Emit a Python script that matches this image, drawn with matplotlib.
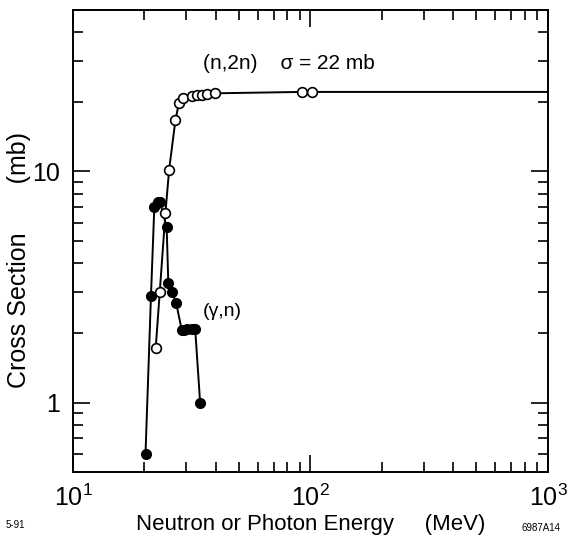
import matplotlib.pyplot as plt
from matplotlib.ticker import LogLocator, NullFormatter, FixedLocator

plt.rcParams['font.family'] = ['Liberation Sans', 'DejaVu Sans']

# (n,2n) - open circles
n2n_energy = [22.3, 23.2, 24.5, 25.4, 27.0, 27.9, 29.1, 31.6, 33.2, 34.8, 36.7, 39.7, 92, 101, 1000]
n2n_sigma = [1.72, 3.02, 6.6, 10.2, 16.7, 19.7, 20.9, 21.3, 21.4, 21.5, 21.6, 21.8, 22.1, 22.1, 22.1]
n2n_marked = 14  # last point is the line to the edge, no marker

# (gamma,n) - filled circles
gn_energy = [20.2, 21.3, 22.0, 22.7, 23.2, 24.8, 25.2, 26.1, 27.2, 28.7, 29.4, 30.1, 31.6, 32.7, 34.3]
gn_sigma = [0.60, 2.9, 7.0, 7.4, 7.4, 5.75, 3.28, 3.02, 2.69, 2.06, 2.06, 2.08, 2.08, 2.08, 1.0]

fig = plt.figure(figsize=(5.72, 5.47), dpi=100)
ax = fig.add_axes([0.1276, 0.137, 0.8304, 0.8447])

ax.plot(gn_energy, gn_sigma, color='black', lw=1.4, marker='o', ms=7,
        mfc='black', mec='black', zorder=3)
ax.plot(n2n_energy, n2n_sigma, color='black', lw=1.4, zorder=2)
ax.plot(n2n_energy[:n2n_marked], n2n_sigma[:n2n_marked], ls='none', marker='o', ms=7,
        mfc='white', mec='black', mew=1.2, zorder=4)

ax.set_xscale('log')
ax.set_yscale('log')
ax.set_xlim(10, 1000)
ax.set_ylim(0.5, 50)

ax.xaxis.set_major_locator(FixedLocator([10, 100, 1000]))
ax.set_xticklabels(['$\\mathregular{10^1}$', '$\\mathregular{10^2}$', '$\\mathregular{10^3}$'])
ax.xaxis.set_minor_locator(LogLocator(base=10, subs=range(2, 10)))
ax.xaxis.set_minor_formatter(NullFormatter())
ax.yaxis.set_major_locator(FixedLocator([1, 10]))
ax.set_yticklabels(['1', '10'])
ax.yaxis.set_minor_locator(LogLocator(base=10, subs=range(2, 10)))
ax.yaxis.set_minor_formatter(NullFormatter())

ax.tick_params(which='both', direction='in', top=True, right=True, width=1.2, labelsize=18)
ax.tick_params(which='major', length=12, pad=9)
ax.tick_params(which='minor', length=7)
for s in ax.spines.values():
    s.set_linewidth(1.4)

ax.set_xlabel('Neutron or Photon Energy     (MeV)', fontsize=16, labelpad=2)
ax.set_ylabel('Cross Section       (mb)', fontsize=18)
ax.yaxis.set_label_coords(-0.088, 0.46)

ax.text(35.3, 29.2, '(n,2n)    \u03c3 = 22 mb', fontsize=15, va='center', ha='left')
ax.text(35.3, 2.47, '(\u03b3,n)', fontsize=14, va='center', ha='left')

fig.text(0.01, 0.035, '5-91', fontsize=7)
fig.text(0.98, 0.03, '6987A14', fontsize=7, ha='right')

fig.savefig('out.png', dpi=100)
